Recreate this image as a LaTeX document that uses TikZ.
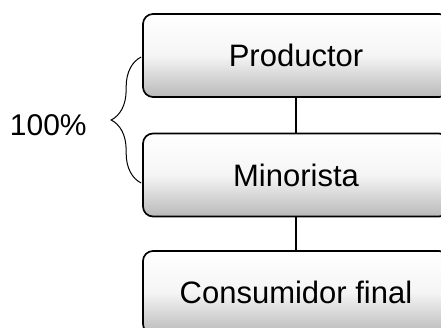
\documentclass[tikz,border=0pt]{standalone}
\usepackage{fontspec}
\setmainfont{Liberation Sans}
\usetikzlibrary{positioning}
\usetikzlibrary{decorations.pathreplacing}
\usetikzlibrary{calc}

\begin{document}
\begin{tikzpicture}[x=1pt, y=-1pt,
  canal/.style={draw, line width=1.7pt, rounded corners=10pt, minimum width=306pt, minimum height=83pt,
                top color=white, bottom color=gray!55, middle color=gray!8,
                font=\fontsize{31}{36}\selectfont, inner sep=0pt},
  enlace/.style={line width=1.5pt}]

 \useasboundingbox (0,0) rectangle (441,327);
 \clip (0,0) rectangle (441,327);

 %canal
 \foreach \name/\y/\txt in {prod/55.5/Productor, mino/175/Minorista, cons/292.5/Consumidor final} {
         \node[canal] (\name) at (296, \y) {\txt};
 }

 %lines
 \draw[enlace] (prod.south) -- (mino.north);
 \draw[enlace] (mino.south) -- (cons.north);

 %brace
 \coordinate (b1) at ($(mino.west)+(-1,8)$);
 \coordinate (b2) at ($(prod.west)+(-1,1.5)$);
 \draw[line width=1pt, decorate, decoration={brace, amplitude=30pt}] (b1) -- (b2)
     node[midway, left=54pt, inner sep=0pt, yshift=-5pt, font=\fontsize{30}{36}\selectfont] (pct) {100\%};

\end{tikzpicture}
\end{document}
